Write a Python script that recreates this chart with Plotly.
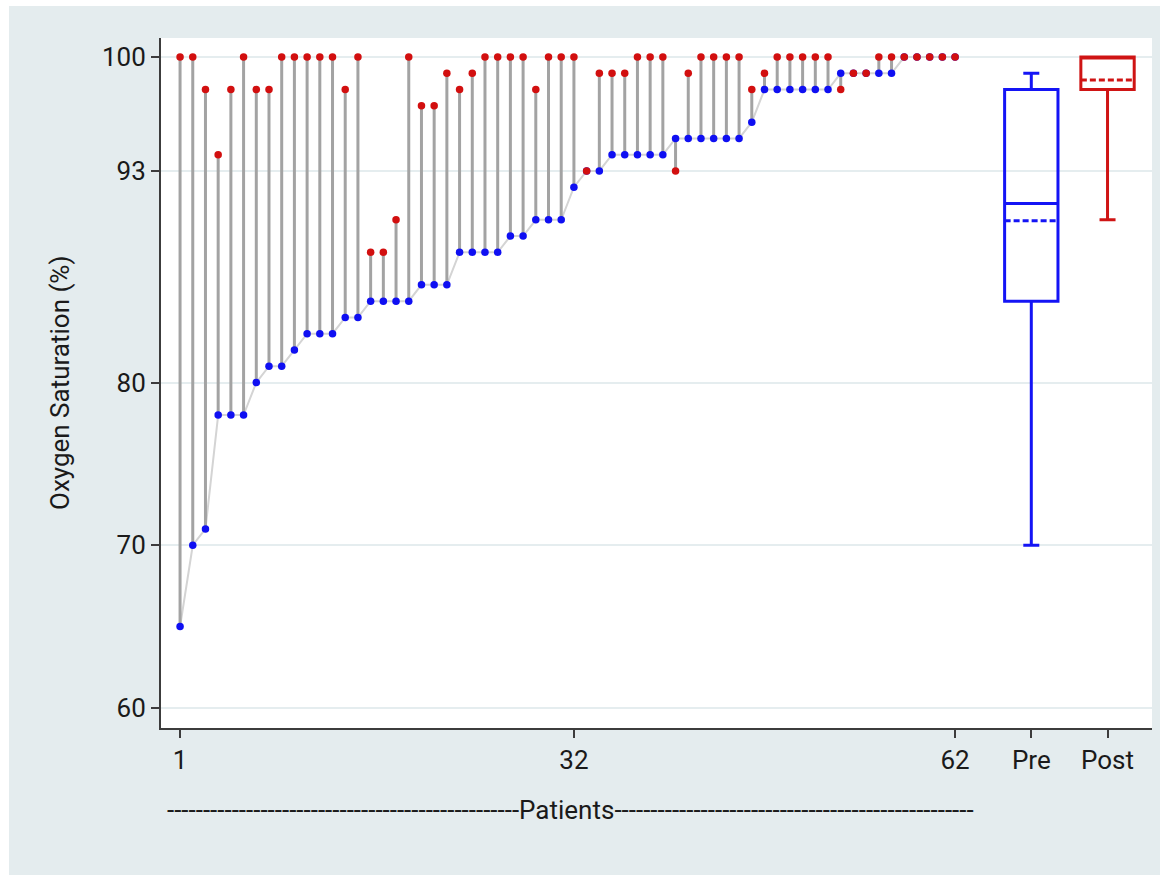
import numpy as np
import plotly.graph_objects as go

# Oxygen saturation (%) per patient, before and after treatment
patients = list(range(1, 63))
pre = [65, 70, 71, 78, 78, 78, 80, 81, 81, 82, 83, 83, 83, 84, 84, 85, 85, 85, 85, 86,
       86, 86, 88, 88, 88, 88, 89, 89, 90, 90, 90, 92, 93, 93, 94, 94, 94, 94, 94, 95,
       95, 95, 95, 95, 95, 96, 98, 98, 98, 98, 98, 98, 99, 99, 99, 99, 99, 100, 100, 100,
       100, 100]
post = [100, 100, 98, 94, 98, 100, 98, 98, 100, 100, 100, 100, 100, 98, 100, 88, 88, 90, 100, 97,
        97, 99, 98, 99, 100, 100, 100, 100, 98, 100, 100, 100, 93, 99, 99, 99, 100, 100, 100, 93,
        99, 100, 100, 100, 100, 98, 99, 100, 100, 100, 100, 100, 98, 99, 99, 100, 100, 100, 100, 100,
        100, 100]

# Summary boxes (Pre, Post)
box_labels = ["Pre", "Post"]
box_pos = [68, 74]
box_q1 = [85, 98]
box_median = [91, 100]
box_q3 = [98, 100]
box_low = [70, 90]
box_high = [99, 100]
box_mean = [float(np.mean(pre)), float(np.mean(post))]
box_colors = ["#1414f5", "#cf1414"]

ref_level = 93
x_tickvals = [1, 32, 62] + box_pos
x_ticktext = ["1", "32", "62"] + box_labels
y_tickvals = [60, 70, 80, 93, 100]

BLUE = "#0f0ff2"
RED = "#d20f0f"
PANEL = "#e4ecee"
FONT = "Roboto"

fig = go.Figure()

# light line linking the pre-treatment values
fig.add_trace(go.Scatter(x=patients, y=pre, mode="lines",
                         line=dict(color="#d4d4d4", width=2), hoverinfo="skip"))

# stems from pre to post value
sx, sy = [], []
for p, a, b in zip(patients, pre, post):
    sx += [p, p, None]
    sy += [a, b, None]
fig.add_trace(go.Scatter(x=sx, y=sy, mode="lines",
                         line=dict(color="#a3a3a3", width=3), hoverinfo="skip"))

fig.add_trace(go.Scatter(x=patients, y=pre, mode="markers",
                         marker=dict(color=BLUE, size=7.5, line=dict(width=0))))
fig.add_trace(go.Scatter(x=patients, y=post, mode="markers",
                         marker=dict(color=RED, size=7.5, line=dict(width=0))))

for i in range(2):
    fig.add_trace(go.Box(
        x=[box_pos[i]], q1=[box_q1[i]], median=[box_median[i]], q3=[box_q3[i]],
        lowerfence=[box_low[i]], upperfence=[box_high[i]], mean=[box_mean[i]],
        boxmean=True, boxpoints=False, orientation="v",
        width=4.2, whiskerwidth=0.3,
        line=dict(color=box_colors[i], width=3),
        fillcolor="rgba(255,255,255,0)",
    ))

# reference level
fig.add_shape(type="line", xref="paper", x0=0, x1=1, yref="y", y0=ref_level, y1=ref_level,
              line=dict(color="#f0a6a6", width=2), layer="below")

# white frame around the grey panel
fx0, fx1 = -161 / 991, 1005 / 991
fy0, fy1 = -154 / 690, 728 / 690
for (a, b, c, d) in [
    (fx0, (9 - 161) / 991, fy0, fy1),
    ((1160 - 161) / 991, fx1, fy0, fy1),
    (fx0, fx1, (728 - 6) / 690, fy1),
    (fx0, fx1, fy0, (728 - 875) / 690),
]:
    fig.add_shape(type="rect", xref="paper", yref="paper", x0=a, x1=b, y0=c, y1=d,
                  fillcolor="white", line=dict(width=0), layer="above")

# axis titles
fig.add_annotation(text="Oxygen Saturation (%)", xref="paper", yref="paper",
                   x=(60 - 161) / 991, y=0.5, textangle=-90, showarrow=False,
                   xanchor="center", yanchor="middle",
                   font=dict(family=FONT, size=26, color="#1a1a1a"))
fig.add_annotation(text="-" * 49 + "Patients" + "-" * 50, xref="paper", yref="paper",
                   x=(570 - 161) / 991, y=(728 - 810) / 690, showarrow=False,
                   xanchor="center", yanchor="middle",
                   font=dict(family=FONT, size=26, color="#1a1a1a"))

fig.update_layout(
    width=1166, height=882,
    margin=dict(l=161, r=14, t=38, b=154),
    paper_bgcolor=PANEL, plot_bgcolor="white",
    showlegend=False,
    font=dict(family=FONT, size=26, color="#1a1a1a"),
)
fig.update_xaxes(range=[-0.5, 77.5], tickvals=x_tickvals, ticktext=x_ticktext,
                 showgrid=False, zeroline=False, showline=True, linecolor="#3c3c3c",
                 linewidth=2, ticks="outside", ticklen=8, tickwidth=1.5, tickcolor="#3c3c3c",
                 tickfont=dict(family=FONT, size=26, color="#1a1a1a"))
fig.update_yaxes(range=[58.77, 101.17], tickvals=y_tickvals,
                 showgrid=True, gridcolor="#e5edef", gridwidth=2, zeroline=False,
                 showline=True, linecolor="#3c3c3c", linewidth=2,
                 ticks="outside", ticklen=8, tickwidth=1.5, tickcolor="#3c3c3c",
                 tickfont=dict(family=FONT, size=26, color="#1a1a1a"))

fig.write_html("out.html")
